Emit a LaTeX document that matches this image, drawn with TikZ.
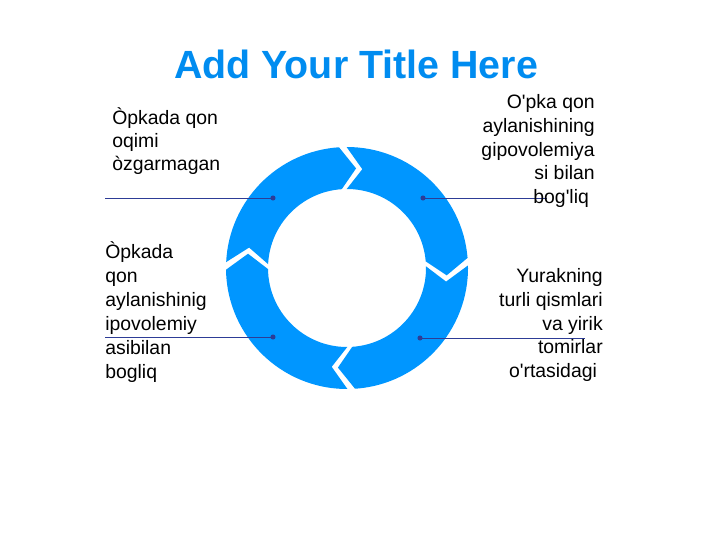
\documentclass[tikz,border=0pt]{standalone}
\usepackage{fontspec}
\newfontfamily\labelfont{Liberation Sans}
\usepackage{tikz}
\tikzset{>=latex}
\definecolor{ringblue}{RGB}{0,150,255}
\definecolor{titleblue}{RGB}{0,140,240}
\definecolor{pinblue}{RGB}{45,60,150}
\tikzset{
  title text/.style={inner sep=0pt, text=titleblue, font=\labelfont\bfseries\fontsize{28}{33}\selectfont},
  label text/.style={inner sep=0pt, font=\labelfont\fontsize{13.8}{17}\selectfont},
  pin dot/.style={circle, fill=pinblue, inner sep=0pt, minimum size=3.6pt},
  pin line/.style={pinblue, line width=0.6pt},
}

\begin{document}
\begin{tikzpicture}[x=0.025cm, y=0.025cm]
            \useasboundingbox (0,0) rectangle (720,540);
            \node[title text] (title) at (356,476) {Add Your Title Here};
            \begin{scope}[shift={(347,272)}]
                \foreach \a/\b in {92/3, 3/-88, -88/-181, 179/92}
                    \fill[ringblue] ({\a-1.8}:121) arc[start angle=\a-1.8, end angle=\b+1.8, radius=121]
                        -- ({\b-7.2}:100) -- ({\b+1.8}:79)
                        arc[start angle=\b+1.8, end angle=\a-1.8, radius=79]
                        -- ({\a-10.8}:100) -- cycle;
            \end{scope}
            \coordinate (e1) at (105,342);
            \coordinate (e2) at (547,342);
            \coordinate (e3) at (585,202);
            \coordinate (e4) at (105,203);
            \node[pin dot] (p1) at (273,342) {};
            \node[pin dot] (p2) at (423,342) {};
            \node[pin dot] (p3) at (420,202) {};
            \node[pin dot] (p4) at (273,203) {};
            \draw[pin line] (e1) -- (p1.center);
            \draw[pin line] (p2.center) -- (e2);
            \draw[pin line] (p3.center) -- (e3);
            \draw[pin line] (e4) -- (p4.center);
            \node[label text, anchor=west, align=left, font=\labelfont\fontsize{13.8}{16.4}\selectfont] (t1) at (112,399) {Òpkada qon\\oqimi\\òzgarmagan};
            \node[label text, anchor=east, align=right] (t2) at (595,389) {O'pka qon\\aylanishining\\gipovolemiya\\si bilan\\bog'liq\hspace*{0.3em}};
            \node[label text, anchor=east, align=right] (t3) at (603,215) {Yurakning\\turli qismlari\\va yirik\\tomirlar\\o'rtasidagi\hspace*{0.3em}};
            \node[label text, anchor=west, align=left] (t4) at (105,228) {Òpkada\\qon\\aylanishinig\\ipovolemiy\\asibilan\\bogliq};
        \end{tikzpicture}
\end{document}
